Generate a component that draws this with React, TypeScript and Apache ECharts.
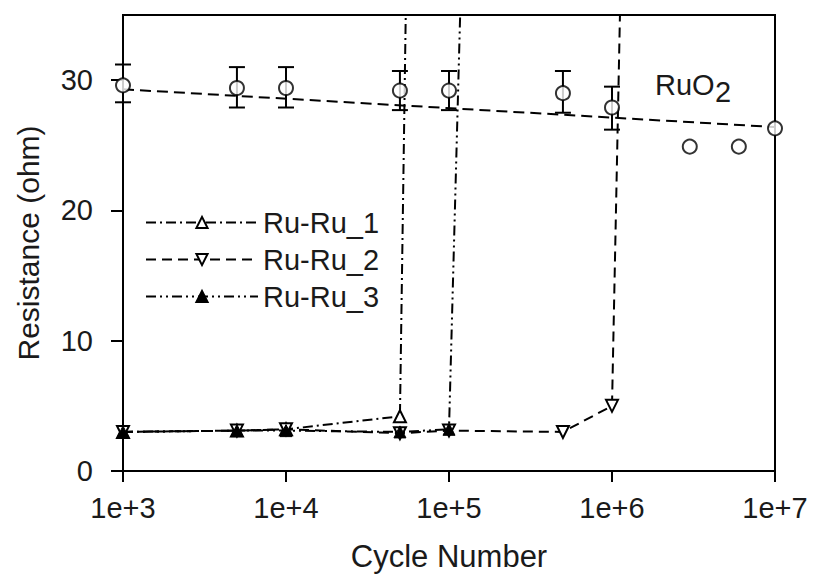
import React, { useEffect, useRef } from 'react';
import * as echarts from 'echarts';

// RuO2 measurements
const ruo2Cycles = [1e3, 5e3, 1e4, 5e4, 1e5, 5e5, 1e6, 3e6, 6e6, 1e7];
const ruo2Values = [29.6, 29.4, 29.4, 29.2, 29.2, 29.0, 27.9, 24.9, 24.9, 26.3];
// RuO2 error bars
const errCycles = [1e3, 5e3, 1e4, 5e4, 1e5, 5e5, 1e6];
const errLow = [28.3, 27.9, 27.9, 27.7, 27.7, 27.5, 26.2];
const errHigh = [31.2, 31.0, 31.0, 30.7, 30.7, 30.7, 29.5];
// RuO2 fit line
const fitCycles = [1e3, 1e7];
const fitValues = [29.3, 26.4];

// Ru-Ru contacts
const ru1Cycles = [1e3, 5e3, 1e4, 5e4, 5.5e4];
const ru1Values = [3.0, 3.1, 3.2, 4.2, 40];
const ru2Cycles = [1e3, 5e3, 1e4, 5e4, 1e5, 5e5, 1e6, 1.14e6];
const ru2Values = [3.0, 3.1, 3.2, 2.9, 3.1, 3.0, 5.0, 40];
const ru3Cycles = [1e3, 5e3, 1e4, 5e4, 1e5, 1.2e5];
const ru3Values = [3.0, 3.1, 3.1, 3.0, 3.2, 40];

const yTicks = [0, 10, 20, 30];
const xTicks = [1e3, 1e4, 1e5, 1e6, 1e7];
const seriesNames = ['Ru-Ru_1', 'Ru-Ru_2', 'Ru-Ru_3'];

const Y_MAX = 35;
const FONT = 'Liberation Sans, Arial, Helvetica, sans-serif';
const TEXT = '#1a1a1a';

function pts(xs: number[], ys: number[]) {
  return xs.map((x, i) =>
    ys[i] > Y_MAX ? { value: [x, ys[i]], symbol: 'none' } : { value: [x, ys[i]] }
  );
}

export default function App() {
  const ref = useRef<HTMLDivElement>(null);
  useEffect(() => {
    if (!ref.current) return;
    const chart = echarts.init(ref.current, undefined, { renderer: 'svg' });
    const option: any = {
      animation: false,
      backgroundColor: '#fff',
      textStyle: { fontFamily: FONT },
      grid: {
        left: 123,
        top: 15,
        width: 652,
        height: 457,
        show: true,
        borderColor: '#000',
        borderWidth: 2,
        backgroundColor: 'transparent',
      },
      xAxis: {
        type: 'log',
        logBase: 10,
        min: 1e3,
        max: 1e7,
        name: 'Cycle Number',
        nameLocation: 'middle',
        nameGap: 70,
        nameTextStyle: { fontSize: 31, color: TEXT, fontFamily: FONT },
        axisLine: { show: true, lineStyle: { color: '#000', width: 2 } },
        axisTick: { show: true, inside: false, length: 11, lineStyle: { color: '#000', width: 2 } },
        minorTick: { show: false },
        splitLine: { show: false },
        axisLabel: {
          fontSize: 29,
          color: TEXT,
          fontFamily: FONT,
          margin: 22,
          formatter: (v: number) => {
            const e = Math.round(Math.log10(v));
            return xTicks.includes(Math.pow(10, e)) ? '1e+' + e : '';
          },
        },
      },
      yAxis: {
        type: 'value',
        min: 0,
        max: Y_MAX,
        interval: 10,
        name: 'Resistance (ohm)',
        nameLocation: 'middle',
        nameGap: 80,
        nameTextStyle: { fontSize: 30, color: TEXT, fontFamily: FONT },
        axisLine: { show: true, lineStyle: { color: '#000', width: 2 } },
        axisTick: { show: true, inside: false, length: 12, lineStyle: { color: '#000', width: 2 }, customValues: yTicks },
        splitLine: { show: false },
        axisLabel: { fontSize: 29, color: TEXT, fontFamily: FONT, margin: 30, customValues: yTicks },
      },
      legend: {
        data: seriesNames,
        orient: 'vertical',
        left: 140,
        top: 203,
        itemWidth: 112,
        itemHeight: 14,
        itemGap: 8,
        textStyle: { fontSize: 29, color: TEXT, fontFamily: FONT },
      },
      graphic: [
        {
          type: 'text',
          x: 655,
          y: 85,
          style: { text: 'RuO', fontSize: 29, fill: TEXT, fontFamily: FONT, textVerticalAlign: 'middle' },
        },
        {
          type: 'text',
          x: 715,
          y: 92,
          style: { text: '2', fontSize: 29, fill: TEXT, fontFamily: FONT, textVerticalAlign: 'middle' },
        },
      ],
      series: [
        {
          name: 'RuO2 fit',
          type: 'line',
          data: fitCycles.map((x, i) => [x, fitValues[i]]),
          showSymbol: false,
          symbol: 'none',
          lineStyle: { color: '#000', width: 2, type: [11, 6] },
          z: 2,
        },
        {
          name: 'RuO2 error',
          type: 'custom',
          data: errCycles.map((x, i) => [x, errLow[i], errHigh[i]]),
          encode: { x: 0, y: [1, 2] },
          renderItem: (params: any, api: any) => {
            const x = api.value(0);
            const lo = api.coord([x, api.value(1)]);
            const hi = api.coord([x, api.value(2)]);
            const hw = 8;
            const style = { stroke: '#000', lineWidth: 2 };
            return {
              type: 'group',
              children: [
                { type: 'line', shape: { x1: lo[0], y1: hi[1], x2: lo[0], y2: lo[1] }, style },
                { type: 'line', shape: { x1: lo[0] - hw, y1: hi[1], x2: lo[0] + hw, y2: hi[1] }, style },
                { type: 'line', shape: { x1: lo[0] - hw, y1: lo[1], x2: lo[0] + hw, y2: lo[1] }, style },
              ],
            };
          },
          z: 3,
        },
        {
          name: 'RuO2',
          type: 'scatter',
          data: ruo2Cycles.map((x, i) => [x, ruo2Values[i]]),
          symbol: 'circle',
          symbolSize: 14,
          itemStyle: { color: '#fff', borderColor: '#000', borderWidth: 2 },
          z: 5,
        },
        {
          name: 'Ru-Ru_1',
          type: 'line',
          data: pts(ru1Cycles, ru1Values),
          symbol: 'triangle',
          symbolSize: 12,
          showAllSymbol: true,
          lineStyle: { color: '#000', width: 2, type: [10, 4, 2, 4] },
          itemStyle: { color: '#fff', borderColor: '#000', borderWidth: 2 },
          clip: true,
          z: 4,
        },
        {
          name: 'Ru-Ru_2',
          type: 'line',
          data: pts(ru2Cycles, ru2Values),
          symbol: 'path://M0,0 L10,0 L5,9 Z',
          symbolSize: 12,
          showAllSymbol: true,
          lineStyle: { color: '#000', width: 2, type: [10, 6] },
          itemStyle: { color: '#fff', borderColor: '#000', borderWidth: 2 },
          clip: true,
          z: 4,
        },
        {
          name: 'Ru-Ru_3',
          type: 'line',
          data: pts(ru3Cycles, ru3Values),
          symbol: 'triangle',
          symbolSize: 12,
          showAllSymbol: true,
          lineStyle: { color: '#000', width: 2, type: [10, 4, 2, 4, 2, 4] },
          itemStyle: { color: '#000', borderColor: '#000', borderWidth: 1 },
          clip: true,
          z: 4,
        },
      ],
    };
    chart.setOption(option);
    return () => chart.dispose();
  }, []);
  return <div ref={ref} style={{ width: 814, height: 577, position: 'absolute', left: 0, top: 0 }} />;
}
